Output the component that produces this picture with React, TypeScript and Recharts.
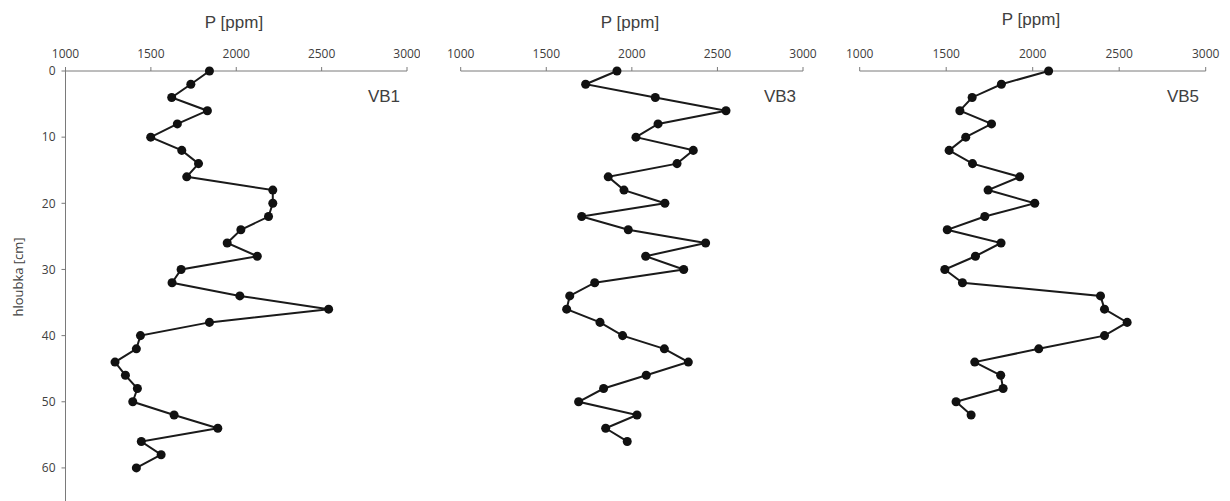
import { ScatterChart, Scatter, XAxis, YAxis, ZAxis } from 'recharts';

const depths1 = [0, 2, 4, 6, 8, 10, 12, 14, 16, 18, 20, 22, 24, 26, 28, 30, 32, 34, 36, 38, 40, 42, 44, 46, 48, 50, 52, 54, 56, 58, 60];
const vb1 = [1843, 1734, 1622, 1831, 1655, 1499, 1681, 1779, 1710, 2214, 2214, 2189, 2027, 1947, 2123, 1677, 1624, 2021, 2541, 1843, 1439, 1415, 1290, 1351, 1421, 1394, 1636, 1892, 1444, 1560, 1415];

const depths3 = [0, 2, 4, 6, 8, 10, 12, 14, 16, 18, 20, 22, 24, 26, 28, 30, 32, 34, 36, 38, 40, 42, 44, 46, 48, 50, 52, 54, 56];
const vb3 = [1913, 1730, 2137, 2550, 2153, 2024, 2359, 2264, 1862, 1954, 2193, 1707, 1979, 2431, 2081, 2303, 1783, 1637, 1619, 1814, 1946, 2190, 2330, 2084, 1835, 1689, 2030, 1847, 1973];

const depths5 = [0, 2, 4, 6, 8, 10, 12, 14, 16, 18, 20, 22, 24, 26, 28, 30, 32, 34, 36, 38, 40, 42, 44, 46, 48, 50, 52];
const vb5 = [2092, 1819, 1650, 1579, 1762, 1613, 1517, 1652, 1925, 1742, 2012, 1723, 1506, 1817, 1669, 1492, 1594, 2392, 2415, 2546, 2415, 2035, 1665, 1815, 1829, 1557, 1644];

const ppmTicks = [1000, 1500, 2000, 2500, 3000];
const depthTicks = [0, 10, 20, 30, 40, 50, 60];

const toRows = (depths: number[], values: number[]) =>
  depths.map((d, i) => ({ depth: d, ppm: values[i] }));

const axisColor = '#7a7a7a';
const textColor = '#404040';
const tickStyle = { fill: textColor, fontSize: 12, fontFamily: 'Open Sans' };

interface PanelProps {
  left: number;
  width: number;
  margin: { top: number; right: number; bottom: number; left: number };
  rows: { depth: number; ppm: number }[];
  showDepth?: boolean;
}

function Panel({ left, width, margin, rows, showDepth }: PanelProps) {
  return (
    <div style={{ position: 'absolute', left, top: 0 }}>
      <ScatterChart width={width} height={501} margin={margin}>
        <XAxis
          type="number"
          dataKey="ppm"
          orientation="top"
          domain={[1000, 3000]}
          ticks={ppmTicks}
          height={30}
          tickSize={4}
          tickMargin={9}
          stroke={axisColor}
          tick={tickStyle}
          interval={0}
        />
        <YAxis
          type="number"
          dataKey="depth"
          domain={[0, 65]}
          ticks={depthTicks}
          reversed
          hide={!showDepth}
          width={50}
          tickSize={4}
          tickMargin={6}
          stroke={axisColor}
          tick={tickStyle}
          interval={0}
        />
        <ZAxis range={[60, 60]} />
        <Scatter
          data={rows}
          fill="#111"
          line={{ stroke: '#1a1a1a', strokeWidth: 2 }}
          isAnimationActive={false}
        />
      </ScatterChart>
    </div>
  );
}

const titleStyle = { fill: textColor, fontSize: 17, fontFamily: 'Liberation Sans' };

export default function App() {
  return (
    <div style={{ position: 'relative', width: 1230, height: 501, background: '#fff', overflow: 'hidden' }}>
      <style>{'body{margin:0}'}</style>
      <Panel left={0} width={420} margin={{ top: 41, right: 13, bottom: 0, left: 15.5 }} rows={toRows(depths1, vb1)} showDepth />
      <Panel left={420} width={400} margin={{ top: 41, right: 17, bottom: 0, left: 40.7 }} rows={toRows(depths3, vb3)} />
      <Panel left={830} width={400} margin={{ top: 41, right: 24.3, bottom: 0, left: 29.7 }} rows={toRows(depths5, vb5)} />
      <svg width={1230} height={501} style={{ position: 'absolute', left: 0, top: 0, pointerEvents: 'none' }}>
        <text x={234} y={28} textAnchor="middle" style={titleStyle}>P [ppm]</text>
        <text x={630} y={28} textAnchor="middle" style={titleStyle}>P [ppm]</text>
        <text x={1031} y={25} textAnchor="middle" style={titleStyle}>P [ppm]</text>
        <text x={384} y={102} textAnchor="middle" style={titleStyle}>VB1</text>
        <text x={780} y={102} textAnchor="middle" style={titleStyle}>VB3</text>
        <text x={1183} y={102} textAnchor="middle" style={titleStyle}>VB5</text>
        <text
          x={17.5}
          y={277}
          textAnchor="middle"
          dominantBaseline="central"
          transform="rotate(-90 17.5 277)"
          style={{ fill: textColor, fontSize: 13, fontFamily: 'Open Sans' }}
        >
          hloubka [cm]
        </text>
      </svg>
    </div>
  );
}
